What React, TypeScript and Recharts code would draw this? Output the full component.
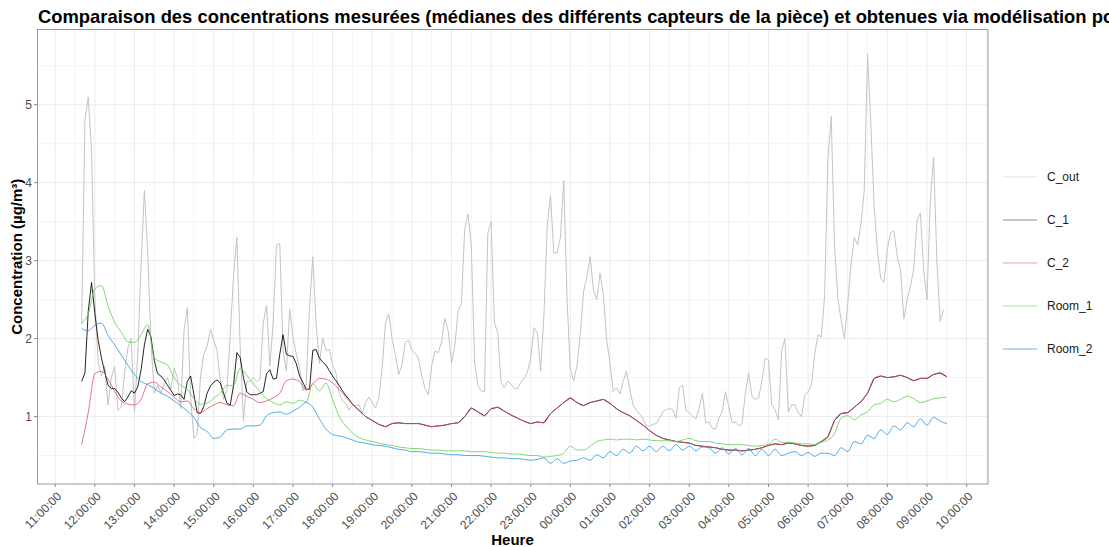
import { LineChart, Line, XAxis, YAxis, CartesianGrid } from "recharts";

const FONT = "'Liberation Sans', Arial, Helvetica, sans-serif";

// first reading at 11:40; C_out and the early part of C_1 every 5 min, the rest every 10 min
const START = 11 + 40 / 60;
const C1_LATE_START = 18 + 50 / 60;

const cOut = [
  2.18, 4.8, 5.1, 4.4, 2.5, 1.7, 1.52, 1.65, 1.15, 1.5,
  1.64, 1.08, 1.12, 1.56, 1.88, 2.0, 1.05, 1.8, 2.95, 3.9,
  3.1, 1.95, 1.3, 1.4, 1.3, 1.42, 1.5, 1.35, 1.62, 1.5,
  1.1, 2.1, 2.4, 1.25, 0.72, 0.78, 1.52, 1.8, 1.9, 2.12,
  1.98, 1.85, 1.45, 1.22, 1.35, 2.05, 2.8, 3.3, 1.9, 0.95,
  1.45, 1.45, 1.5, 1.45, 1.48, 2.2, 2.43, 1.65, 2.2, 3.2,
  3.22, 1.85, 1.58, 2.38, 2.02, 1.8, 1.62, 1.33, 1.4, 2.4,
  3.05, 2.2, 1.68, 2.0, 1.85, 1.86, 1.66, 1.56, 1.3, 1.2,
  1.17, 1.08, 1.15, 1.14, 1.15, 1.04, 1.18, 1.25, 1.18, 1.11,
  1.24, 1.62, 2.2, 2.32, 2.0, 1.8, 1.54, 1.66, 1.95, 1.98,
  1.85, 1.81, 1.75, 1.52, 1.36, 1.28, 1.65, 1.84, 1.82, 1.96,
  2.26, 2.1, 1.68, 1.9, 2.35, 2.45, 3.4, 3.6, 3.2, 1.7,
  1.4, 1.33, 1.32, 3.35, 3.5, 2.2, 2.08, 1.44, 1.37, 1.45,
  1.42, 1.36, 1.36, 1.44, 1.49, 1.57, 1.75, 2.14, 2.07, 1.58,
  2.3, 3.45, 3.84, 3.1, 3.1, 3.3, 4.03, 2.5, 1.6, 1.46,
  1.65, 2.05, 2.6, 2.79, 3.05, 2.62, 2.5, 2.84, 2.56, 1.98,
  1.69, 1.32, 1.37, 1.29, 1.45, 1.58, 1.35, 1.15, 1.08, 1.03,
  0.97, 0.88, 0.88, 0.9, 0.91, 0.98, 1.06, 1.09, 1.1, 1.09,
  0.98, 1.37, 1.4, 1.08, 1.05, 1.01, 0.97, 1.1, 1.3, 0.92,
  0.93, 0.85, 0.84, 0.98, 1.07, 1.32, 1.12, 0.92, 0.93, 0.88,
  0.91, 1.3, 1.56, 1.26, 1.22, 1.24, 1.45, 1.75, 1.72, 1.15,
  1.09, 0.96, 1.85, 2.0, 1.06, 1.15, 1.15, 1.05, 1.0, 1.28,
  1.32, 1.4, 1.8, 2.05, 2.02, 2.55, 4.3, 4.85, 3.2, 2.52,
  2.24, 2.0, 2.45, 2.95, 3.3, 3.2, 3.47, 3.9, 5.65, 4.75,
  3.7, 3.12, 2.77, 2.72, 3.15, 3.36, 3.38, 3.05, 2.88, 2.25,
  2.5, 2.67, 2.9, 3.52, 3.61, 2.88, 2.5, 3.75, 4.33, 3.0,
  2.22, 2.37,
];

const c1Early = [
  1.45, 1.56, 2.35, 2.72, 2.32, 1.98, 1.75, 1.57, 1.4, 1.36,
  1.36, 1.31, 1.24, 1.19, 1.25, 1.33, 1.3, 1.38, 1.6, 1.92,
  2.12, 2.02, 1.72, 1.55, 1.52, 1.47, 1.4, 1.34, 1.27, 1.29,
  1.28, 1.22, 1.45, 1.52, 1.28, 1.05, 1.04, 1.13, 1.3, 1.39,
  1.44, 1.47, 1.43, 1.3, 1.17, 1.15, 1.4, 1.82, 1.76, 1.5,
  1.32, 1.28, 1.28, 1.28, 1.3, 1.32, 1.55, 1.6, 1.48, 1.49,
  1.8, 2.05, 1.8, 1.78, 1.77, 1.68, 1.52, 1.44, 1.35, 1.35,
  1.85, 1.86, 1.75, 1.7, 1.66, 1.59, 1.52, 1.46, 1.4, 1.33,
  1.27, 1.22, 1.16, 1.12, 1.08,
];

const c1Late = [
  1.0, 0.95, 0.9, 0.87, 0.91, 0.92, 0.91,
  0.91, 0.91, 0.89, 0.87, 0.88, 0.89, 0.91, 0.92, 1.0, 1.11,
  1.06, 1.01, 1.1, 1.12, 1.07, 1.02, 0.98, 0.94, 0.91, 0.93,
  0.92, 1.04, 1.11, 1.18, 1.24, 1.18, 1.14, 1.18, 1.2, 1.22,
  1.17, 1.1, 1.05, 1.01, 0.95, 0.89, 0.82, 0.76, 0.72, 0.7,
  0.68, 0.67, 0.66, 0.63, 0.62, 0.61, 0.6, 0.58, 0.57, 0.57,
  0.56, 0.57, 0.58, 0.6, 0.63, 0.65, 0.64, 0.66, 0.65, 0.63,
  0.62, 0.63, 0.68, 0.74, 0.95, 1.04, 1.05, 1.12, 1.19, 1.3,
  1.49, 1.52, 1.5, 1.51, 1.53, 1.5, 1.46, 1.49, 1.49, 1.54, 1.56, 1.51,
];

const c2 = [
  0.64, 1.05, 1.55, 1.58, 1.48, 1.32, 1.2, 1.16, 1.15, 1.22,
  1.42, 1.44, 1.38, 1.32, 1.25, 1.19, 1.2, 1.1, 1.05, 1.1,
  1.15, 1.18, 1.15, 1.14, 1.3, 1.26, 1.22, 1.18, 1.2, 1.24,
  1.3, 1.46, 1.48, 1.45, 1.34, 1.42, 1.49, 1.48, 1.43, 1.35,
  1.25, 1.16, 1.08, 1.0, 0.95, 0.9, 0.87, 0.91, 0.92, 0.91,
  0.91, 0.91, 0.89, 0.87, 0.88, 0.89, 0.91, 0.92, 1.0, 1.11,
  1.06, 1.01, 1.1, 1.12, 1.07, 1.02, 0.98, 0.94, 0.91, 0.93,
  0.92, 1.04, 1.11, 1.18, 1.24, 1.18, 1.14, 1.18, 1.2, 1.22,
  1.17, 1.1, 1.05, 1.01, 0.95, 0.89, 0.82, 0.76, 0.72, 0.7,
  0.68, 0.67, 0.66, 0.63, 0.62, 0.61, 0.6, 0.58, 0.57, 0.57,
  0.56, 0.57, 0.58, 0.6, 0.63, 0.65, 0.64, 0.66, 0.65, 0.63,
  0.62, 0.63, 0.68, 0.74, 0.95, 1.04, 1.05, 1.12, 1.19, 1.3,
  1.49, 1.52, 1.5, 1.51, 1.53, 1.5, 1.46, 1.49, 1.49, 1.54, 1.56, 1.51,
];

const room1 = [
  2.2, 2.32, 2.64, 2.68, 2.42, 2.21, 2.08, 1.96, 1.95, 2.05,
  2.18, 1.75, 1.7, 1.66, 1.5, 1.4, 1.35, 1.23, 1.16, 1.17,
  1.24, 1.3, 1.4, 1.4, 1.62, 1.53, 1.42, 1.32, 1.23, 1.18,
  1.15, 1.19, 1.17, 1.21, 1.19, 1.42, 1.33, 1.43, 1.22, 1.0,
  0.88, 0.79, 0.73, 0.7, 0.68, 0.66, 0.64, 0.63, 0.61, 0.6,
  0.59, 0.59, 0.58, 0.57, 0.57, 0.56, 0.56, 0.56, 0.56, 0.55,
  0.55, 0.55, 0.54, 0.53, 0.53, 0.52, 0.52, 0.51, 0.5, 0.5,
  0.48, 0.49, 0.5, 0.53, 0.62, 0.57, 0.57, 0.62, 0.68, 0.7,
  0.71, 0.7, 0.71, 0.71, 0.7, 0.71, 0.7, 0.69, 0.69, 0.69,
  0.68, 0.7, 0.72, 0.69, 0.68, 0.68, 0.66, 0.65, 0.64, 0.64,
  0.64, 0.63, 0.62, 0.63, 0.64, 0.71, 0.67, 0.67, 0.66, 0.65,
  0.65, 0.64, 0.67, 0.7, 0.78, 0.98, 1.01, 0.96, 1.02, 1.06,
  1.15, 1.17, 1.22, 1.19, 1.22, 1.26, 1.23, 1.18, 1.2, 1.23, 1.24, 1.25,
];

const room2 = [
  2.13, 2.1, 2.17, 2.2, 2.04, 1.92, 1.79, 1.66, 1.54, 1.45,
  1.41, 1.36, 1.3, 1.26, 1.2, 1.14, 1.07, 0.99, 0.86, 0.81,
  0.72, 0.74, 0.83, 0.84, 0.84, 0.88, 0.88, 0.89, 1.01, 1.05,
  1.06, 1.03, 1.07, 1.12, 1.18, 1.12, 0.97, 0.84, 0.77, 0.75,
  0.73, 0.7, 0.67, 0.66, 0.64, 0.63, 0.62, 0.6, 0.58, 0.57,
  0.55, 0.55, 0.54, 0.53, 0.53, 0.52, 0.51, 0.51, 0.5, 0.5,
  0.5, 0.49, 0.48, 0.47, 0.47, 0.46, 0.46, 0.45, 0.44, 0.45,
  0.47, 0.4, 0.46, 0.4, 0.43, 0.44, 0.47, 0.44, 0.51, 0.47,
  0.55, 0.5, 0.58, 0.53, 0.62, 0.56, 0.62, 0.55, 0.62, 0.56,
  0.64, 0.57, 0.62, 0.56, 0.61, 0.6, 0.53, 0.6, 0.52, 0.59,
  0.51, 0.59, 0.5, 0.58, 0.5, 0.58, 0.5, 0.53, 0.55, 0.5,
  0.54, 0.49, 0.53, 0.53, 0.5, 0.6, 0.55, 0.68, 0.65, 0.76,
  0.72, 0.83, 0.77, 0.88, 0.83, 0.92, 0.87, 0.97, 0.89, 0.99, 0.94, 0.91,
];

const hourTicks = [11, 12, 13, 14, 15, 16, 17, 18, 19, 20, 21, 22, 23, 24, 25, 26, 27, 28, 29, 30, 31, 32, 33, 34];
const halfHours = [11.5, 12.5, 13.5, 14.5, 15.5, 16.5, 17.5, 18.5, 19.5, 20.5, 21.5, 22.5, 23.5, 24.5, 25.5, 26.5, 27.5, 28.5, 29.5, 30.5, 31.5, 32.5, 33.5, 34.5];
const concTicks = [1, 2, 3, 4, 5];
const concMinor = [0.5, 1.5, 2.5, 3.5, 4.5, 5.5];

const toPoints = (values: number[], start: number, stepMin: number) =>
  values.map((v, i) => ({ t: start + (i * stepMin) / 60, v }));

const series = [
  { name: "C_out", data: toPoints(cOut, START, 5), stroke: "#c4c4c4", opacity: 1, keyColor: "#e3e3e3", curve: "linear" },
  {
    name: "C_1",
    data: [...toPoints(c1Early, START, 5), ...toPoints(c1Late, C1_LATE_START, 10)],
    stroke: "#000000",
    opacity: 0.85,
    keyColor: "#8c8c8c",
    curve: "linear",
  },
  { name: "C_2", data: toPoints(c2, START, 10), stroke: "#DF536B", opacity: 0.8, keyColor: "#eea3b0", curve: "monotone" },
  { name: "Room_1", data: toPoints(room1, START, 10), stroke: "#61D04F", opacity: 0.8, keyColor: "#a9e49f", curve: "monotone" },
  { name: "Room_2", data: toPoints(room2, START, 10), stroke: "#2297E6", opacity: 0.8, keyColor: "#6db5ec", curve: "monotone" },
];

const clock = (h: number) => `${String(Math.round(h) % 24).padStart(2, "0")}:00:00`;

const HourTick = (props: any) => {
  const { x, y, payload } = props;
  const ax = x + 7;
  const ay = y + 8;
  return (
    <text
      x={ax}
      y={ay}
      transform={`rotate(-45, ${ax}, ${ay})`}
      textAnchor="end"
      fontSize={12}
      fill="#4d4d4d"
      fontFamily={FONT}
    >
      {clock(payload.value)}
    </text>
  );
};

// panel bounds inside the 1109x547 frame
const PANEL = { left: 37, top: 29.5, right: 988, bottom: 484 };

export default function App() {
  return (
    <div style={{ position: "absolute", left: 0, top: 0, width: 1109, height: 547, overflow: "hidden", background: "#fff" }}>
      <LineChart
        width={1109}
        height={547}
        margin={{ top: PANEL.top, right: 1109 - PANEL.right, bottom: 0, left: 0 }}
      >
        <CartesianGrid verticalValues={halfHours} horizontalValues={concMinor} stroke="#f4f4f4" strokeWidth={1} />
        <CartesianGrid verticalValues={hourTicks} horizontalValues={concTicks} stroke="#ebebeb" strokeWidth={1} />
        <XAxis
          type="number"
          dataKey="t"
          domain={[10.54, 34.54]}
          ticks={hourTicks}
          interval={0}
          allowDataOverflow
          axisLine={false}
          tickSize={3}
          tickLine={{ stroke: "#8a8a8a" }}
          height={547 - PANEL.bottom}
          tick={<HourTick />}
        />
        <YAxis
          type="number"
          domain={[0.135, 5.965]}
          ticks={concTicks}
          allowDataOverflow
          axisLine={false}
          tickSize={3}
          tickLine={{ stroke: "#8a8a8a" }}
          width={PANEL.left}
          tick={{ fill: "#4d4d4d", fontSize: 12, fontFamily: FONT }}
        />
        {series.map((s) => (
          <Line
            key={s.name}
            data={s.data}
            dataKey="v"
            name={s.name}
            type={s.curve as any}
            stroke={s.stroke}
            strokeOpacity={s.opacity}
            strokeWidth={1}
            dot={false}
            activeDot={false}
            isAnimationActive={false}
          />
        ))}
      </LineChart>

      <svg
        width={1109}
        height={547}
        style={{ position: "absolute", left: 0, top: 0, pointerEvents: "none" }}
        fontFamily={FONT}
      >
        <rect
          x={PANEL.left + 0.5}
          y={PANEL.top}
          width={PANEL.right - PANEL.left - 0.5}
          height={PANEL.bottom - PANEL.top}
          fill="none"
          stroke="#999999"
          strokeWidth={1}
        />
        <text x={38} y={23} fontSize={18.4} fontWeight="bold" fill="#000">
          Comparaison des concentrations mesurées (médianes des différents capteurs de la pièce) et obtenues via modélisation po
        </text>
        <text x={(PANEL.left + PANEL.right) / 2} y={544.5} fontSize={15} fontWeight="bold" textAnchor="middle" fill="#000">
          Heure
        </text>
        <text
          x={22}
          y={(PANEL.top + PANEL.bottom) / 2}
          fontSize={15}
          fontWeight="bold"
          textAnchor="middle"
          fill="#000"
          transform={`rotate(-90, 22, ${(PANEL.top + PANEL.bottom) / 2})`}
        >
          Concentration (µg/m³)
        </text>
        {series.map((s, i) => {
          const cy = 177 + i * 43;
          return (
            <g key={s.name}>
              <line x1={1003} x2={1037} y1={cy} y2={cy} stroke={s.keyColor} strokeWidth={1.2} />
              <text x={1047} y={cy + 4.3} fontSize={12} fill="#1a1a1a">
                {s.name}
              </text>
            </g>
          );
        })}
      </svg>
    </div>
  );
}
